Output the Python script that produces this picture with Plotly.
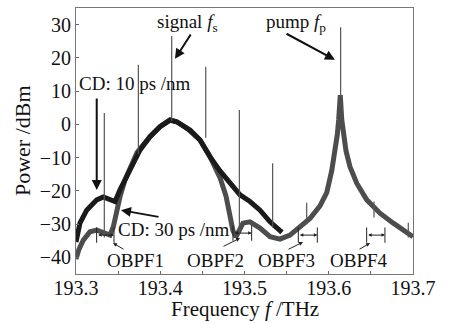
import plotly.graph_objects as go

# ---- data ----
cd10_freq = [193.300, 193.3047, 193.3127, 193.3246, 193.3324, 193.3404, 193.3463, 193.3522,
             193.3641, 193.376, 193.3878, 193.3997, 193.4116, 193.4195, 193.4314, 193.4353,
             193.4472, 193.459, 193.4709, 193.4828, 193.4947, 193.5065, 193.5184, 193.5303,
             193.5382, 193.5445]
cd10_power = [-35.4, -29.7, -25.8, -22.7, -21.8, -22.7, -23.2, -19.7,
              -13.7, -7.7, -3.7, -0.7, 1.3, 0.8, -1.1, -1.7,
              -4.7, -9.7, -14.0, -17.8, -21.2, -23.2, -25.8, -29.3,
              -31.2, -32.5]

cd30_freq = [193.300, 193.3036, 193.3087, 193.3166, 193.3246, 193.3324, 193.3404, 193.3443,
             193.3483, 193.3522, 193.3582, 193.3661, 193.3724, 193.3878, 193.3997, 193.4116,
             193.4195, 193.4314, 193.4472, 193.459, 193.4626, 193.4709, 193.478, 193.4828,
             193.4863, 193.4899, 193.4947, 193.4982, 193.5065, 193.5184, 193.5303, 193.5421,
             193.554, 193.5659, 193.5777, 193.5896, 193.5976, 193.6035, 193.6074, 193.6102,
             193.6118, 193.6137, 193.6154, 193.6173, 193.6205, 193.6252, 193.6332, 193.6451,
             193.6608, 193.6766, 193.6925, 193.700]
cd30_power = [-40.5, -37.5, -34.8, -32.3, -31.8, -32.7, -33.3, -30.8,
              -25.8, -21.8, -16.7, -11.6, -8.5, -3.7, -0.7, 1.3,
              0.8, -1.1, -4.7, -9.7, -11.5, -16.0, -21.5, -27.5,
              -32.0, -33.8, -31.5, -29.7, -29.3, -31.2, -33.8, -34.5,
              -33.3, -30.8, -28.3, -24.5, -20.5, -14.0, -8.5, -3.0,
              1.5, 8.8, 1.5, -3.0, -8.0, -12.7, -17.7, -22.7,
              -26.7, -29.7, -32.3, -33.8]

spike_freq = [193.3336, 193.374, 193.4136, 193.454, 193.4939, 193.5334, 193.5738, 193.6141, 193.6537, 193.6944]
spike_top = [3.4, 17.9, 26.6, 17.3, 4.3, -11.7, -23.6, 29.2, -23.2, -29.6]
spike_base = [-34.0, -9.0, 1.0, -4.0, -33.0, -31.0, -30.0, 8.8, -28.0, -34.0]

obpf_names = ["OBPF1", "OBPF2", "OBPF3", "OBPF4"]
obpf_lo = [193.3245, 193.4863, 193.5639, 193.645]
obpf_hi = [193.3451, 193.5085, 193.5864, 193.6667]
obpf_level = [-33.3, -32.7, -33.3, -33.3]
obpf_label_f = [193.3712, 193.465, 193.5493, 193.6359]
obpf_arrow_tail_f = [193.3582, 193.4733, 193.5504, 193.6347]
obpf_arrow_tail_p = [-37.8, -36.9, -37.8, -37.8]
obpf_arrow_head_f = [193.3439, 193.4947, 193.5694, 193.649]
obpf_arrow_head_p = [-35.7, -34.2, -35.4, -35.7]

x_ticks = [193.3, 193.4, 193.5, 193.6, 193.7]
y_ticks = [-40, -30, -20, -10, 0, 10, 20, 30]

FONT = "Liberation Serif"

fig = go.Figure()

fig.add_trace(go.Scatter(x=cd30_freq, y=cd30_power, mode="lines",
                         line=dict(color="#4d4d4d", width=5), showlegend=False))
fig.add_trace(go.Scatter(x=cd10_freq, y=cd10_power, mode="lines",
                         line=dict(color="#1a1a1a", width=5), showlegend=False))

sx, sy = [], []
for f, t, b in zip(spike_freq, spike_top, spike_base):
    sx += [f, f, None]
    sy += [b, t, None]
fig.add_trace(go.Scatter(x=sx, y=sy, mode="lines", line=dict(color="#555555", width=1.2),
                         showlegend=False))

bx, by = [], []
for lo, hi, lv in zip(obpf_lo, obpf_hi, obpf_level):
    bx += [lo, lo, None, hi, hi, None]
    by += [lv - 2.3, lv + 2.3, None, lv - 2.3, lv + 2.3, None]
fig.add_trace(go.Scatter(x=bx, y=by, mode="lines", line=dict(color="#222222", width=1),
                         showlegend=False))

ann = []
for lo, hi, lv in zip(obpf_lo, obpf_hi, obpf_level):
    ann.append(dict(x=hi, y=lv, ax=lo, ay=lv, xref="x", yref="y", axref="x", ayref="y",
                    text="", showarrow=True, arrowhead=2, arrowsize=0.7, arrowwidth=1,
                    arrowside="end+start", arrowcolor="#222222"))
for name, lf, tf, tp, hf, hp in zip(obpf_names, obpf_label_f, obpf_arrow_tail_f, obpf_arrow_tail_p,
                                    obpf_arrow_head_f, obpf_arrow_head_p):
    ann.append(dict(x=lf, y=-40.8, xref="x", yref="y", text=name, showarrow=False,
                    font=dict(family=FONT, size=19, color="#111")))
    ann.append(dict(x=hf, y=hp, ax=tf, ay=tp, xref="x", yref="y", axref="x", ayref="y",
                    text="", showarrow=True, arrowhead=2, arrowsize=0.8, arrowwidth=1,
                    arrowcolor="#222222"))

# CD 10 label + arrow
ann.append(dict(x=193.37, y=12.4, xref="x", yref="y", text="CD: 10 ps /nm", showarrow=False,
                font=dict(family=FONT, size=19, color="#111")))
ann.append(dict(x=193.3246, y=-19.7, ax=193.3246, ay=8.2, xref="x", yref="y", axref="x", ayref="y",
                text="", showarrow=True, arrowhead=2, arrowsize=1, arrowwidth=2, arrowcolor="#111"))
# CD 30 label + arrow
ann.append(dict(x=193.4163, y=-31.5, xref="x", yref="y", text="CD: 30 ps /nm", showarrow=False,
                font=dict(family=FONT, size=19, color="#111")))
ann.append(dict(x=193.3534, y=-25.8, ax=193.3997, ay=-27.9, xref="x", yref="y", axref="x", ayref="y",
                text="", showarrow=True, arrowhead=2, arrowsize=1, arrowwidth=2, arrowcolor="#111"))
# signal
ann.append(dict(x=193.4318, y=30.5, xref="x", yref="y", text="signal <i>f</i><sub>s</sub>",
                showarrow=False, font=dict(family=FONT, size=19, color="#111")))
ann.append(dict(x=193.4175, y=19.7, ax=193.4373, ay=27.5, xref="x", yref="y", axref="x", ayref="y",
                text="", showarrow=True, arrowhead=2, arrowsize=1, arrowwidth=2, arrowcolor="#111"))
# pump
ann.append(dict(x=193.5611, y=30.5, xref="x", yref="y", text="pump <i>f</i><sub>p</sub>",
                showarrow=False, font=dict(family=FONT, size=19, color="#111")))
ann.append(dict(x=193.6074, y=19.4, ax=193.5481, ay=27.5, xref="x", yref="y", axref="x", ayref="y",
                text="", showarrow=True, arrowhead=2, arrowsize=1, arrowwidth=2, arrowcolor="#111"))

# axis titles
ann.append(dict(x=0.5, y=-0.184, xref="paper", yref="paper", xanchor="center", yanchor="bottom",
                text="Frequency <i>f</i> /THz", showarrow=False,
                font=dict(family=FONT, size=21, color="#111")))
ann.append(dict(x=-0.16, y=0.5, xref="paper", yref="paper", xanchor="center", yanchor="middle",
                text="Power /dBm", textangle=-90, showarrow=False,
                font=dict(family=FONT, size=22, color="#111")))

fig.update_layout(
    width=453, height=324,
    margin=dict(l=76, r=40, t=8, b=50),
    paper_bgcolor="white", plot_bgcolor="white",
    annotations=ann,
    font=dict(family=FONT, size=20, color="#111"),
)
fig.update_xaxes(range=[193.3, 193.7], tickvals=x_ticks, ticktext=[f"{v:.1f}" for v in x_ticks],
                 ticks="inside", ticklen=3, tickcolor="#666", ticklabelstandoff=-4,
                 minor=dict(dtick=0.05, ticks="inside", ticklen=3, tickcolor="#666"),
                 showgrid=False, zeroline=False, showline=True, linecolor="#777", linewidth=1,
                 mirror=True, tickfont=dict(family=FONT, size=20, color="#111"))
fig.update_yaxes(range=[-45, 35], tickvals=y_ticks,
                 ticks="inside", ticklen=3, tickcolor="#666",
                 showgrid=False, zeroline=False, showline=True, linecolor="#777", linewidth=1,
                 mirror=True, tickfont=dict(family=FONT, size=20, color="#111"))

fig.write_html("out.html")
